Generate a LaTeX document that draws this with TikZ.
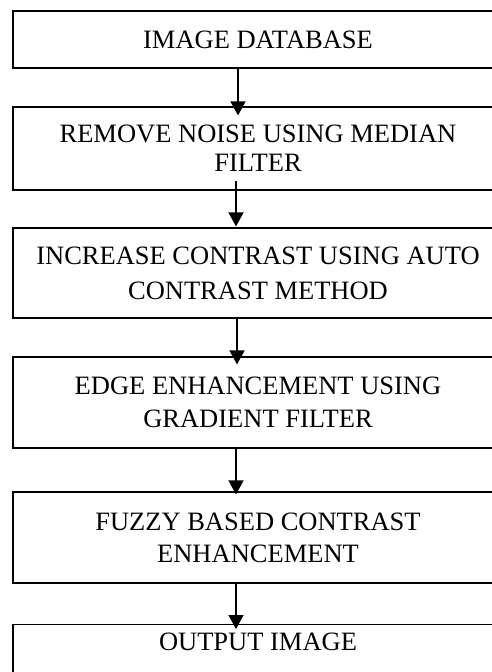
\documentclass[tikz,border=0pt]{standalone}
\usepackage{fontspec}
\setmainfont{Liberation Serif}
\usetikzlibrary{arrows.meta}
\tikzset{
  flowbox/.style={draw=black, line width=1.2pt, fill=white, minimum width=490pt,
    inner sep=0pt, align=center, font=\fontsize{26.5}{32}\selectfont},
  flowarrow/.style={line width=1.6pt, -{Triangle[width=15pt,length=14pt]}}
}
\begin{document}
\begin{tikzpicture}[x=1pt,y=-1pt]
\useasboundingbox (0,0) rectangle (492,672);
\clip (0,0) rectangle (492,672);
\node[flowbox, minimum height=57pt] (b1) at (258,39.5) {IMAGE DATABASE};
\node[flowbox, minimum height=83pt, font=\fontsize{26.5}{29}\selectfont] (b2) at (258,148.5) {REMOVE NOISE USING MEDIAN\\FILTER};
\node[flowbox, minimum height=90pt, font=\fontsize{26.5}{35}\selectfont] (b3) at (258,273) {INCREASE CONTRAST USING AUTO\\CONTRAST METHOD};
\node[flowbox, minimum height=91pt, font=\fontsize{26.5}{33}\selectfont] (b4) at (258,402.5) {EDGE ENHANCEMENT USING\\GRADIENT FILTER};
\node[flowbox, minimum height=91pt, font=\fontsize{26.5}{32}\selectfont] (b5) at (258,537.5) {FUZZY BASED CONTRAST\\ENHANCEMENT};
\node[flowbox, minimum height=67pt, anchor=north] (b6) at (258,624) {OUTPUT IMAGE\\\mbox{}};
\draw[flowarrow] ([xshift=-20pt]b1.south) -- ([xshift=-20pt,yshift=-9pt]b2.north);
\draw[flowarrow] ([xshift=-22pt,yshift=10pt]b2.south) -- ([xshift=-22pt,yshift=1pt]b3.north);
\draw[flowarrow] ([xshift=-21pt]b3.south) -- ([xshift=-21pt,yshift=-8pt]b4.north);
\draw[flowarrow] ([xshift=-22pt]b4.south) -- ([xshift=-22pt,yshift=-3pt]b5.north);
\draw[flowarrow] ([xshift=-22pt]b5.south) -- ([xshift=-22pt,yshift=-5pt]b6.north);
\end{tikzpicture}
\end{document}
